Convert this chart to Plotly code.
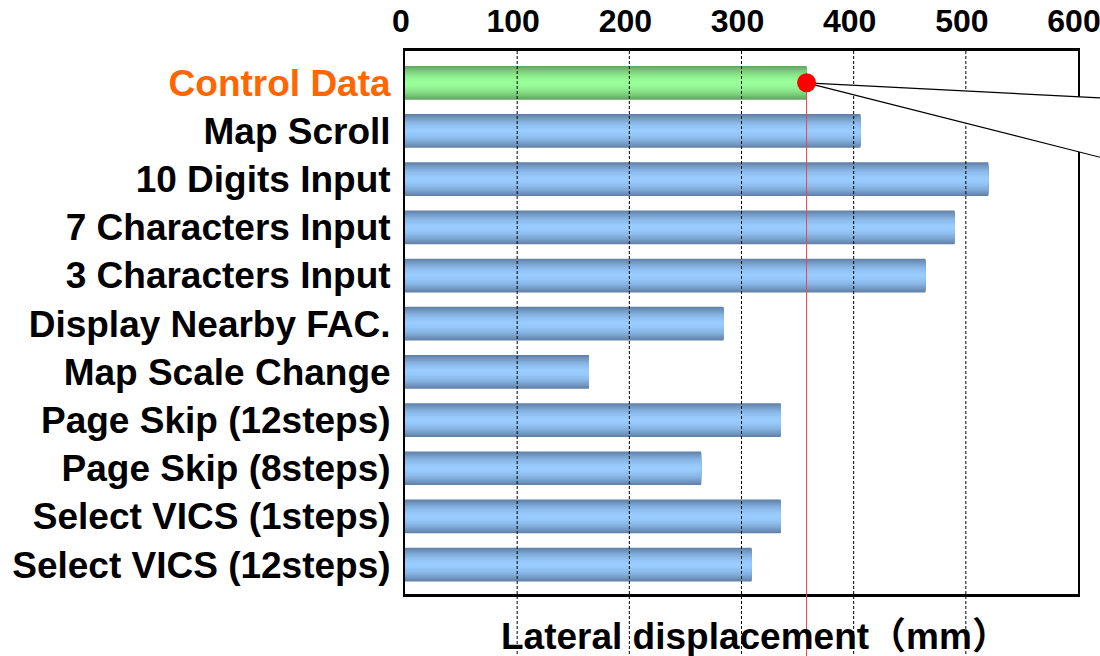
import plotly.graph_objects as go

# ---- data -------------------------------------------------------------
categories = [
    "Control Data",
    "Map Scroll",
    "10 Digits Input",
    "7 Characters Input",
    "3 Characters Input",
    "Display Nearby FAC.",
    "Map Scale Change",
    "Page Skip (12steps)",
    "Page Skip (8steps)",
    "Select VICS (1steps)",
    "Select VICS (12steps)",
]
displacement = [358, 406, 520, 490, 464, 284, 164, 335, 264, 335, 309]
x_ticks = [0, 100, 200, 300, 400, 500, 600]
x_title = "Lateral displacement（mm）"
control_name = "Control Data"

# ---- styling ----------------------------------------------------------
X_MAX = 600
Y_RANGE = [10.61, -0.66]          # reversed category axis (top to bottom)
BAR_W = 0.70
FONT = "Liberation Sans, Arial, Noto Sans CJK JP, sans-serif"

blue_edge, blue_mid = (96, 128, 166), (153, 204, 255)
green_edge, green_mid = (98, 166, 98), (153, 255, 153)


def mix(a, b, t):
    return "rgb(%d,%d,%d)" % tuple(round(a[i] + (b[i] - a[i]) * t) for i in range(3))


fig = go.Figure()

# cylinder-like shading: stack narrower and lighter bars on top of each other
N_LAYERS = 18
for k in range(N_LAYERS):
    s = 1 - k / N_LAYERS            # relative thickness of this layer
    t = 1 - s ** 1.8                # 0 at the rim, 1 at the centre
    colors = [
        mix(green_edge, green_mid, t) if c == control_name else mix(blue_edge, blue_mid, t)
        for c in categories
    ]
    fig.add_trace(go.Bar(
        x=displacement, y=categories, orientation="h",
        width=BAR_W * s,
        marker=dict(color=colors, line=dict(width=0)),
        hoverinfo="skip", showlegend=False,
    ))

ctrl_idx = categories.index(control_name)
ctrl_val = displacement[ctrl_idx]

# apex of the call-out wedge in axis-domain units
ax_d = ctrl_val / X_MAX
ay_d = (Y_RANGE[0] - ctrl_idx) / (Y_RANGE[0] - Y_RANGE[1])
far_x = 1.06
upper_y = ay_d + (0.9158 - ay_d) / (1 - ax_d) * (far_x - ax_d)
lower_y = ay_d + (0.8146 - ay_d) / (1 - ax_d) * (far_x - ax_d)

shapes = []
# dashed vertical grid lines, running on below the frame
for v in x_ticks[1:-1]:
    shapes.append(dict(
        type="line", xref="x", yref="y domain",
        x0=v, x1=v, y0=1, y1=-0.25,
        line=dict(color="black", width=1, dash="3px,2px"), layer="above",
    ))
# red marker line under the control value
shapes.append(dict(
    type="line", xref="x", yref="y domain",
    x0=ctrl_val, x1=ctrl_val, y0=ay_d, y1=-0.25,
    line=dict(color="rgb(232,72,72)", width=1), layer="above",
))
# white call-out wedge heading off to the right
shapes.append(dict(
    type="path", xref="x domain", yref="y domain",
    path="M %f %f L %f %f L %f %f Z" % (ax_d, ay_d, far_x, upper_y, far_x, lower_y),
    fillcolor="white", line=dict(color="black", width=1.2), layer="above",
))
# red dot at the end of the control bar
shapes.append(dict(
    type="circle", xref="x", yref="y",
    xsizemode="pixel", ysizemode="pixel",
    xanchor=ctrl_val, yanchor=ctrl_idx,
    x0=-9.5, x1=9.5, y0=-9.5, y1=9.5,
    fillcolor="red", line=dict(width=0), layer="above",
))

ticktext = [
    '<span style="color:#FF6600">%s</span>' % c if c == control_name else c
    for c in categories
]

fig.update_layout(
    template="none",
    width=1100, height=656,
    margin=dict(l=405, r=22, t=51, b=62),
    paper_bgcolor="white", plot_bgcolor="white",
    barmode="overlay",
    showlegend=False,
    shapes=shapes,
    font=dict(family=FONT, color="black"),
    xaxis=dict(
        side="top", range=[0, X_MAX], tickvals=x_ticks,
        showgrid=False, zeroline=False, automargin=False,
        showline=True, mirror=True, linecolor="black", linewidth=3,
        ticks="", ticklabelstandoff=3, ticklabelshift=-4,
        ticklabeloverflow="allow",
        tickfont=dict(family=FONT, size=32, weight="bold", color="black"),
        layer="below traces",
    ),
    yaxis=dict(
        type="category", categoryorder="array", categoryarray=categories,
        range=Y_RANGE, tickvals=categories, ticktext=ticktext,
        showgrid=False, zeroline=False, automargin=False,
        showline=True, mirror=True, linecolor="black", linewidth=2,
        ticks="", ticklabelstandoff=5,
        tickfont=dict(family=FONT, size=37, weight="bold", color="black"),
        layer="below traces",
    ),
    annotations=[dict(
        text=x_title, xref="x domain", yref="y domain",
        x=0.139, y=-0.078, xanchor="left", yanchor="middle",
        showarrow=False,
        font=dict(family=FONT, size=37, weight="bold", color="black"),
    )],
)

fig.write_html("out.html")
